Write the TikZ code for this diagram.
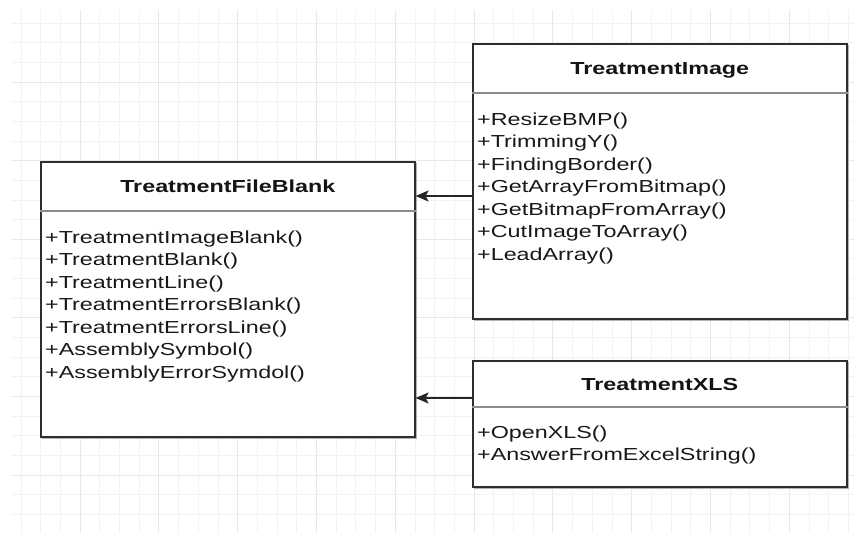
\documentclass[tikz,border=0pt]{standalone}
\usepackage{fontspec}
\setmainfont[FakeStretch=1.34]{Liberation Sans}
\usetikzlibrary{arrows.meta,calc}

\tikzset{
  minorgrid/.style={draw=black!5, line width=0.8pt},
  majorgrid/.style={draw=black!9, line width=0.9pt},
  classbox/.style={draw=black!82, line width=1.6pt, fill=white, inner sep=0pt,
                   anchor=north west, minimum width=374pt},
  shadowbox/.style={draw=black!30, line width=1.2pt, inner sep=0pt,
                   anchor=north west, minimum width=374pt},
  divider/.style={draw=black!45, line width=1.2pt},
  classtitle/.style={anchor=base, inner sep=0pt, text=black!92,
                     font=\fontsize{17.4}{22.5}\selectfont\bfseries},
  method/.style={anchor=base west, inner sep=0pt, text=black!90,
                 font=\fontsize{17.4}{22.5}\selectfont},
  assoc/.style={draw=black!85, line width=1.6pt,
                -{Stealth[length=13pt,width=11pt,inset=3pt]}}
}

\begin{document}
\begin{tikzpicture}[x=1pt,y=-1pt]
  \useasboundingbox (0,0) rectangle (854,533);
  \fill[white] (0,0) rectangle (854,533);

  % background grid
  \begin{scope}
    \clip (11,10) rectangle (854,533);
    \foreach \k in {-4,...,40} {
      \draw[minorgrid] ({80+19.7*\k},0) -- ({80+19.7*\k},533);
    }
    \foreach \k in {-4,...,24} {
      \draw[minorgrid] (0,{82+19.65*\k}) -- (854,{82+19.65*\k});
    }
    \foreach \k in {-1,...,10} {
      \draw[majorgrid] ({80+78.8*\k},0) -- ({80+78.8*\k},533);
    }
    \foreach \k in {-1,...,6} {
      \draw[majorgrid] (0,{82+78.6*\k}) -- (854,{82+78.6*\k});
    }
  \end{scope}

  % class: TreatmentFileBlank
  \node[shadowbox, minimum height=275pt] at (41.5,162.5) {};
  \node[classbox, minimum height=275pt] (fb) at (40,161) {};
  \draw[divider] ([yshift=-50pt]fb.north west) -- ([yshift=-50pt]fb.north east);
  \node[classtitle] (fbt) at ([yshift=-31pt]fb.north) {TreatmentFileBlank};
  \foreach \t [count=\i] in {TreatmentImageBlank(), TreatmentBlank(), TreatmentLine(),
      TreatmentErrorsBlank(), TreatmentErrorsLine(), AssemblySymbol(), AssemblyErrorSymdol()} {
    \node[method] (fbm\i) at ([xshift=5pt, yshift={-(82+22.5*(\i-1))*1pt}]fb.north west) {+\t};
  }

  % class: TreatmentImage
  \node[shadowbox, minimum height=275pt] at (473.5,44.5) {};
  \node[classbox, minimum height=275pt] (img) at (472,43) {};
  \draw[divider] ([yshift=-50pt]img.north west) -- ([yshift=-50pt]img.north east);
  \node[classtitle] (imgt) at ([yshift=-31pt]img.north) {TreatmentImage};
  \foreach \t [count=\i] in {ResizeBMP(), TrimmingY(), FindingBorder(), GetArrayFromBitmap(),
      GetBitmapFromArray(), CutImageToArray(), LeadArray()} {
    \node[method] (imgm\i) at ([xshift=5pt, yshift={-(82+22.5*(\i-1))*1pt}]img.north west) {+\t};
  }

  % class: TreatmentXLS
  \node[shadowbox, minimum height=126pt] at (473.5,361.5) {};
  \node[classbox, minimum height=126pt] (xls) at (472,360) {};
  \draw[divider] ([yshift=-47pt]xls.north west) -- ([yshift=-47pt]xls.north east);
  \node[classtitle] (xlst) at ([yshift=-30pt]xls.north) {TreatmentXLS};
  \foreach \t [count=\i] in {OpenXLS(), AnswerFromExcelString()} {
    \node[method] (xlsm\i) at ([xshift=5pt, yshift={-(78+22.5*(\i-1))*1pt}]xls.north west) {+\t};
  }

  % associations
  \coordinate (a1) at ([yshift=-153pt]img.north west);
  \coordinate (a2) at ([yshift=-38pt]xls.north west);
  \draw[assoc] (a1) -- (a1 -| fb.east);
  \draw[assoc] (a2) -- (a2 -| fb.east);
\end{tikzpicture}
\end{document}
